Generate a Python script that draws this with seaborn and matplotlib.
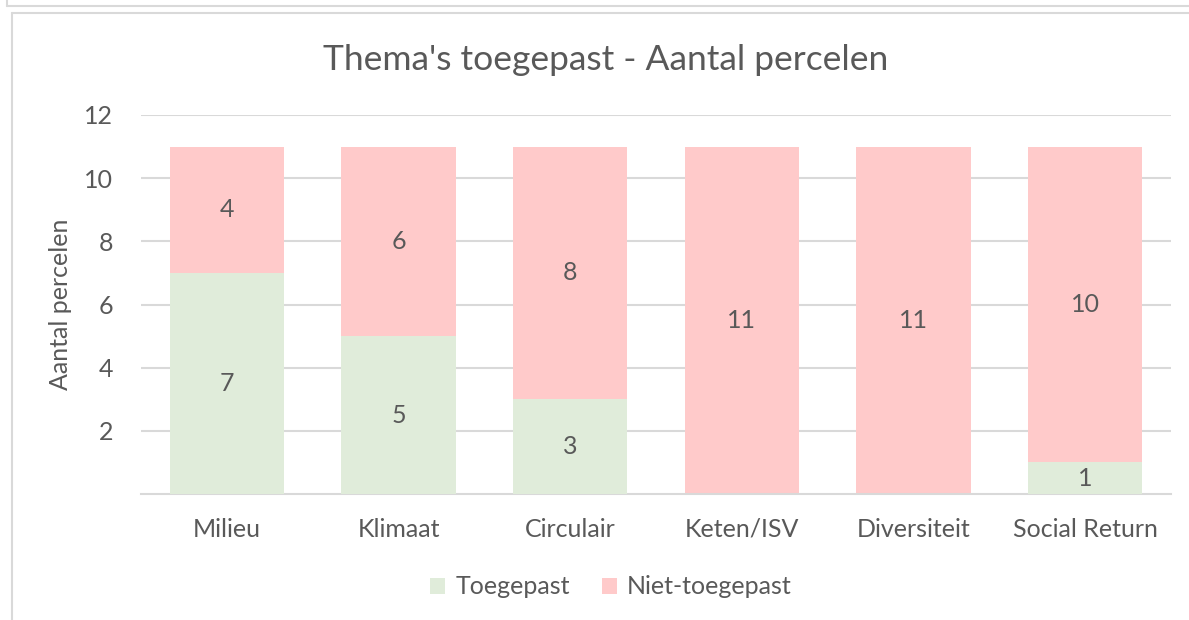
import matplotlib
matplotlib.use("Agg")
import matplotlib.pyplot as plt
from matplotlib.lines import Line2D
from matplotlib.patches import Patch
import seaborn as sns
import pandas as pd

categories = ["Milieu", "Klimaat", "Circulair", "Keten/ISV", "Diversiteit", "Social Return"]
toegepast = [7, 5, 3, 0, 0, 1]
niet_toegepast = [4, 6, 8, 11, 11, 10]
series_names = ["Toegepast", "Niet-toegepast"]
yticks = [2, 4, 6, 8, 10, 12]

GREEN = "#E0ECDA"
PINK = "#FFCACA"
TXT = "#595959"
GRID = "#D9D9D9"
FS = 18

sns.set_theme(style="white")
plt.rcParams["font.family"] = ["Lato", "DejaVu Sans"]

W, H = 1189, 620
fig = plt.figure(figsize=(W / 100, H / 100), dpi=100)
ax = fig.add_axes([141 / W, 1 - 494 / H, (1171 - 141) / W, (494 - 115) / H])

df = pd.DataFrame({
    "cat": categories,
    "toe": toegepast,
    "niet": niet_toegepast,
})
df["total"] = df["toe"] + df["niet"]

sns.barplot(data=df, x="cat", y="total", color=PINK, width=0.665, ax=ax,
            saturation=1, zorder=2, linewidth=0)
sns.barplot(data=df, x="cat", y="toe", color=GREEN, width=0.665, ax=ax,
            saturation=1, zorder=3, linewidth=0)

pink_c, green_c = ax.containers[0], ax.containers[1]
for i, rect_p in enumerate(pink_c):
    x = rect_p.get_x() + rect_p.get_width() / 2
    t, n = toegepast[i], niet_toegepast[i]
    if n > 0:
        ax.text(x, t + n / 2, str(n), ha="center", va="center", fontsize=FS,
                color=TXT, zorder=5)
    if t > 0:
        ax.text(x, t / 2, str(t), ha="center", va="center", fontsize=FS,
                color=TXT, zorder=5)

ax.set_ylim(0, 12)
ax.set_xlim(-0.5, len(categories) - 0.5)
ax.set_yticks(yticks)
ax.set_yticklabels([str(v) for v in yticks])
ax.yaxis.grid(True, color=GRID, linewidth=1.5, zorder=0)
ax.set_axisbelow(True)
for s in ["top", "right", "left"]:
    ax.spines[s].set_visible(False)
ax.spines["bottom"].set_color(GRID)
ax.spines["bottom"].set_linewidth(1.5)
ax.tick_params(axis="both", length=0, labelsize=FS, labelcolor=TXT)
ax.tick_params(axis="y", pad=20)
ax.tick_params(axis="x", pad=17)
ax.set_xlabel("")
ax.set_ylabel("Aantal percelen", fontsize=FS, color=TXT, labelpad=9)

fig.text(606 / W, 1 - 60 / H, "Thema's toegepast - Aantal percelen",
         ha="center", va="center", fontsize=25.5, color=TXT)

handles = [Patch(facecolor=GREEN, edgecolor="none"),
           Patch(facecolor=PINK, edgecolor="none")]
fig.legend(handles, series_names, loc="center", bbox_to_anchor=(611 / W, 1 - 587 / H),
           ncol=2, frameon=False, fontsize=FS, labelcolor=TXT,
           handlelength=0.6, handleheight=0.6, handletextpad=0.4, columnspacing=1.3)

fc = "#D9D9D9"
fig.add_artist(Line2D([12 / W, 12 / W], [0, 1 - 13 / H], color=fc, lw=1.5, transform=fig.transFigure))
fig.add_artist(Line2D([12 / W, 1], [1 - 13 / H, 1 - 13 / H], color=fc, lw=1.5, transform=fig.transFigure))
fig.add_artist(Line2D([7 / W, 1], [1 - 6 / H, 1 - 6 / H], color=fc, lw=1.5, transform=fig.transFigure))
fig.add_artist(Line2D([7 / W, 7 / W], [1 - 6 / H, 1], color=fc, lw=1.5, transform=fig.transFigure))

fig.savefig("out.png", dpi=100, facecolor="white")
